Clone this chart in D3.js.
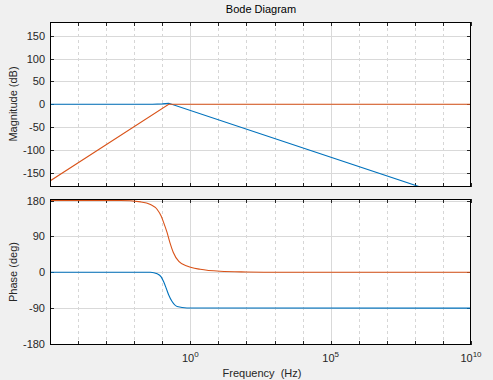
<!DOCTYPE html>
<html>
<head>
<meta charset="utf-8">
<script src="https://cdn.jsdelivr.net/npm/d3@7"></script>
<style>
  body { margin: 0; background: #f0f0f0; }
  svg { display: block; font-family: "Liberation Sans", Arial, sans-serif; }
</style>
</head>
<body>
<svg id="chart" width="493" height="380"></svg>
<script>
// 频率范围 (Hz)
var xDomain = [1e-5, 1e10];
var xTickExp = [0, 5, 10];

// 幅值 (dB): 频率为 log10(Hz)
var magFreqBlue = [-5, -1.35, -1.0, -0.77, 10];
var magBlue     = [0, 0, 0.8, 2, -218];
var magFreqOrange = [-5, -0.77, 10];
var magOrange     = [-168, 0, 0];

// 相位 (deg)
var phFreqOrange = [-5, -2.48, -1.77, -1.42, -1.18, -1.04, -0.95, -0.83, -0.73, -0.61, -0.41, -0.12, 0.35, 1.06, 2.01, 3.2, 10];
var phOrange     = [180, 180, 176.5, 170, 157.5, 141, 124.6, 99.9, 75, 50.3, 27.2, 15.7, 7.4, 2.5, 0.8, 0, 0];
var phFreqBlue = [-5, -1.42, -1.18, -1.04, -0.95, -0.86, -0.77, -0.65, -0.47, -0.12, 10];
var phBlue     = [0, 0, -4, -11.6, -24, -40, -57, -73.5, -86, -89.5, -90];

var magTicks = [-150, -100, -50, 0, 50, 100, 150];
var phTicks = [-180, -90, 0, 90, 180];

var blue = "#0072BD", orange = "#D95319";

var svg = d3.select("#chart");
var left = 50, right = 471;

var x = d3.scaleLog().domain(xDomain).range([left, right]);
var yMag = d3.scaleLinear().domain([-180, 180]).range([186.5, 22]);
var yPh = d3.scaleLinear().domain([-180, 180]).range([344, 200.5]);

// 每个十倍频
var decades = d3.range(-5, 11).map(function (e) { return Math.pow(10, e); });

function drawAxes(y, yTicks, top, bottom, id) {
    var g = svg.append("g").attr("id", id);
    var cid = "clip-" + id;
    svg.append("clipPath").attr("id", cid)
        .append("rect").attr("x", left).attr("y", top)
        .attr("width", right - left).attr("height", bottom - top);

    g.append("rect")
        .attr("x", left).attr("y", top)
        .attr("width", right - left).attr("height", bottom - top)
        .attr("fill", "#ffffff");

    // 次网格 (虚线)
    g.selectAll("line.minor")
        .data(decades.filter(function (d) {
            var e = Math.round(Math.log10(d));
            return e % 5 !== 0;
        }))
        .enter()
        .append("line")
        .attr("x1", function (d) { return Math.round(x(d)) + 0.5; })
        .attr("x2", function (d) { return Math.round(x(d)) + 0.5; })
        .attr("y1", top).attr("y2", bottom)
        .attr("stroke", "#d6d6d6")
        .attr("stroke-dasharray", "3,3");

    // 主网格
    g.selectAll("line.majx")
        .data(xTickExp.filter(function (e) { return e < 10; }))
        .enter()
        .append("line")
        .attr("x1", function (e) { return Math.round(x(Math.pow(10, e))) + 0.5; })
        .attr("x2", function (e) { return Math.round(x(Math.pow(10, e))) + 0.5; })
        .attr("y1", top).attr("y2", bottom)
        .attr("stroke", "#d9d9d9");

    g.selectAll("line.majy")
        .data(yTicks)
        .enter()
        .append("line")
        .attr("x1", left).attr("x2", right)
        .attr("y1", function (d) { return Math.round(y(d)) + 0.5; })
        .attr("y2", function (d) { return Math.round(y(d)) + 0.5; })
        .attr("stroke", "#d9d9d9");

    // 刻度 (内向)
    var tk = g.append("g").attr("stroke", "#262626");
    decades.forEach(function (d) {
        var xx = Math.round(x(d)) + 0.5;
        tk.append("line").attr("x1", xx).attr("x2", xx).attr("y1", bottom).attr("y2", bottom - 4);
        tk.append("line").attr("x1", xx).attr("x2", xx).attr("y1", top).attr("y2", top + 4);
    });
    yTicks.forEach(function (d) {
        var yy = Math.round(y(d)) + 0.5;
        tk.append("line").attr("x1", left).attr("x2", left + 4).attr("y1", yy).attr("y2", yy);
        tk.append("line").attr("x1", right).attr("x2", right - 4).attr("y1", yy).attr("y2", yy);
    });

    g.selectAll("text.ytick")
        .data(yTicks)
        .enter()
        .append("text")
        .attr("x", left - 5)
        .attr("y", function (d) { return y(d); })
        .attr("dy", 4)
        .attr("text-anchor", "end")
        .attr("font-size", 11)
        .attr("fill", "#262626")
        .text(function (d) { return d; });

    return "url(#" + cid + ")";
}

function drawLine(freq, vals, y, color, clip, curve) {
    var pts = freq.map(function (f, i) { return [Math.pow(10, f), vals[i]]; });
    var line = d3.line()
        .x(function (d) { return x(d[0]); })
        .y(function (d) { return y(d[1]); })
        .curve(curve);
    svg.append("path")
        .datum(pts)
        .attr("d", line)
        .attr("fill", "none")
        .attr("stroke", color)
        .attr("stroke-width", 1.1)
        .attr("clip-path", clip);
}

function drawBox(top, bottom) {
    svg.append("rect")
        .attr("x", left + 0.5).attr("y", top + 0.5)
        .attr("width", right - left - 1).attr("height", bottom - top - 1)
        .attr("fill", "none")
        .attr("stroke", "#000000");
}

var clipMag = drawAxes(yMag, magTicks, 22, 187, "mag");
drawLine(magFreqBlue, magBlue, yMag, blue, clipMag, d3.curveLinear);
drawLine(magFreqOrange, magOrange, yMag, orange, clipMag, d3.curveLinear);
drawBox(22, 187);

var clipPh = drawAxes(yPh, phTicks, 199, 345, "phase");
drawLine(phFreqBlue, phBlue, yPh, blue, clipPh, d3.curveMonotoneX);
drawLine(phFreqOrange, phOrange, yPh, orange, clipPh, d3.curveMonotoneX);
drawBox(199, 345);

// x 轴标签 10^n
var xl = svg.append("g");
xTickExp.forEach(function (e) {
    var t = xl.append("text")
        .attr("x", x(Math.pow(10, e)))
        .attr("y", 362)
        .attr("text-anchor", "middle")
        .attr("font-size", 11)
        .attr("fill", "#262626");
    t.append("tspan").text("10");
    t.append("tspan").attr("dy", -5).attr("font-size", 8).text(e);
});

svg.append("text")
    .attr("x", 262).attr("y", 377)
    .attr("text-anchor", "middle")
    .attr("font-size", 11)
    .attr("fill", "#262626")
    .attr("xml:space", "preserve")
    .text("Frequency  (Hz)");

svg.append("text")
    .attr("x", 261).attr("y", 13)
    .attr("text-anchor", "middle")
    .attr("font-size", 11)
    .attr("fill", "#000000")
    .text("Bode Diagram");

svg.append("text")
    .attr("transform", "translate(17,104) rotate(-90)")
    .attr("text-anchor", "middle")
    .attr("font-size", 11)
    .attr("fill", "#262626")
    .text("Magnitude (dB)");

svg.append("text")
    .attr("transform", "translate(17,272) rotate(-90)")
    .attr("text-anchor", "middle")
    .attr("font-size", 11)
    .attr("fill", "#262626")
    .text("Phase (deg)");
</script>
</body>
</html>
